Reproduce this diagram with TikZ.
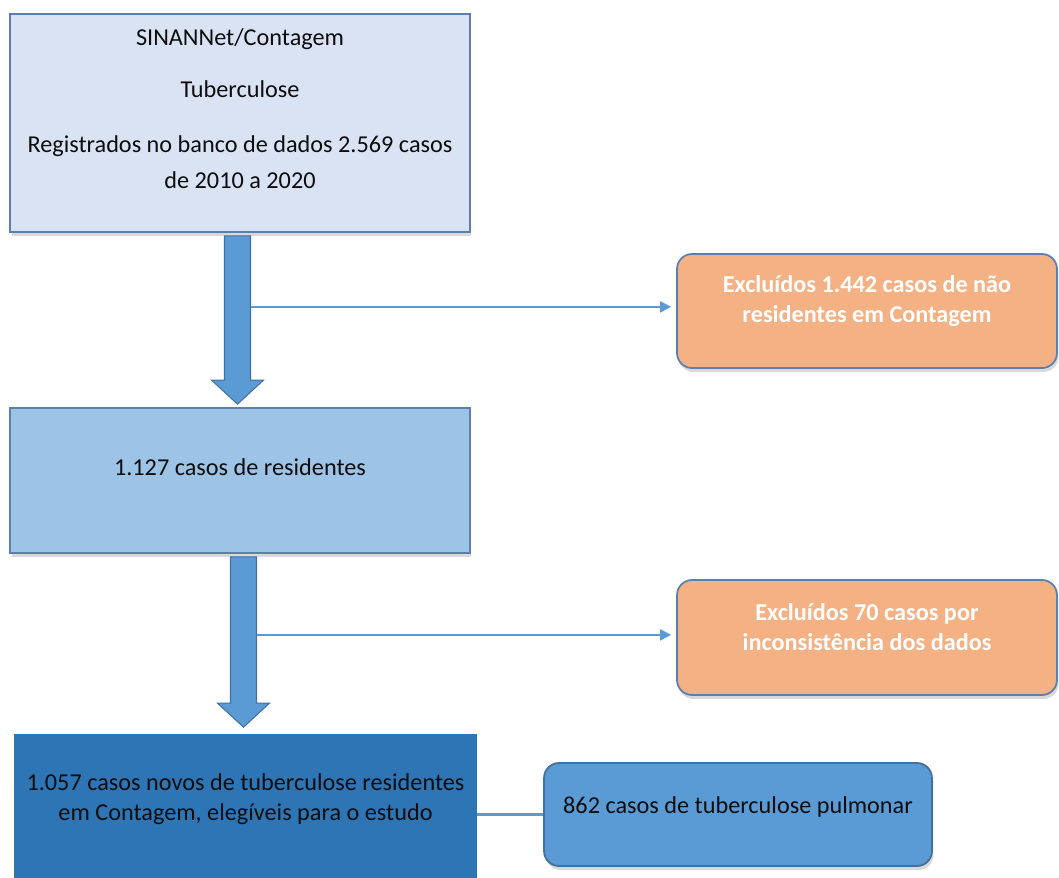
\documentclass[tikz,border=0pt]{standalone}
\usepackage{fontspec}
\setmainfont{Carlito}
\usetikzlibrary{calc,shadows,arrows.meta}
\definecolor{paleblue}{HTML}{DAE3F3}
\definecolor{midblue}{HTML}{9DC3E6}
\definecolor{darkblue}{HTML}{2E75B6}
\definecolor{accblue}{HTML}{5B9BD5}
\definecolor{edgeblue}{HTML}{41719C}
\definecolor{framegray}{HTML}{5B7FAE}
\definecolor{peach}{HTML}{F4B183}
\tikzset{box/.style={draw=framegray, line width=1pt, rectangle, inner sep=0pt, align=center, text=black!95,
		font=\fontsize{13.8}{17.07}\selectfont,
		drop shadow={shadow xshift=0.03cm, shadow yshift=-0.08cm, opacity=0.3}}}
\tikzset{excl/.style={box, rounded corners=0.3cm, fill=peach, text=white, minimum width=7.6cm,
		font=\bfseries\fontsize{13.8}{17.07}\selectfont}}
\tikzset{fatarrow/.style={fill=accblue, draw=edgeblue, line width=0.6pt}}
\tikzset{branch/.style={draw=accblue, line width=1.1pt, shorten >=0.1cm, -{Triangle[length=0.22cm,width=0.22cm]}}}
\newcommand{\lift}[1]{\rule[-#1]{0pt}{0pt}}
\newcommand{\fatarrow}[2]{\draw[fatarrow] ($(#1)+(-13,0)$) -- ($(#1)+(13,0)$) -- ($(#2)+(13,-24)$) -- ($(#2)+(26,-24)$) -- (#2) -- ($(#2)+(-26,-24)$) -- ($(#2)+(-13,-24)$) -- cycle;}

\begin{document}
\begin{tikzpicture}[x=0.02cm, y=-0.02cm]
		\useasboundingbox (0,0) rectangle (1059,877);
		
		\node[box, fill=paleblue, minimum width=9.2cm, minimum height=4.36cm, font=\fontsize{13.8}{20.49}\selectfont] (src) at (240,123)
			{\strut SINANNet/Contagem\\[0.32cm]\strut Tuberculose\\[0.38cm]\strut Registrados no banco de dados 2.569 casos\\\strut de 2010 a 2020\lift{0.764cm}};
		\node[box, fill=midblue, minimum width=9.2cm, minimum height=2.9cm] (res) at (240,480.5)
			{\strut 1.127 casos de residentes\lift{0.64cm}};
		\node[box, fill=darkblue, draw=darkblue, minimum width=9.22cm, minimum height=3.2cm] (dark) at (245.5,815)
			{\strut 1.057 casos novos de tuberculose residentes\\\strut em Contagem, elegíveis para o estudo\lift{0.82cm}};
		\node[excl, minimum height=2.28cm] (exc1) at (867,311)
			{\strut Excluídos 1.442 casos de não\\\strut residentes em Contagem\lift{0.58cm}};
		\node[excl, minimum height=2.3cm] (exc2) at (867,637.5)
			{\strut Excluídos 70 casos por\\\strut inconsistência dos dados\lift{0.52cm}};
		\node[box, fill=accblue, draw=edgeblue, rounded corners=0.3cm, minimum width=7.76cm, minimum height=2.06cm] (pul) at (738,814.5)
			{\strut 862 casos de tuberculose pulmonar\lift{0.48cm}};
		
		\coordinate (a1) at ($(src.south)+(-2.5,3)$);
		\coordinate (t1) at ($(res.north)+(-2.5,-3)$);
		\coordinate (a2) at ($(res.south)+(3.5,3)$);
		\coordinate (t2) at ($(dark.north)+(-2,-7)$);
		\fatarrow{a1}{t1}
		\fatarrow{a2}{t2}
		
		\coordinate (b1) at ($(a1)+(13,71)$);
		\coordinate (b2) at ($(a2)+(13,78)$);
		\draw[branch] (b1) -- (b1 -| exc1.west);
		\draw[branch] (b2) -- (b2 -| exc2.west);
		\draw[draw=accblue, line width=1.6pt] (dark.east |- pul.west) -- (pul.west);
\end{tikzpicture}
\end{document}
